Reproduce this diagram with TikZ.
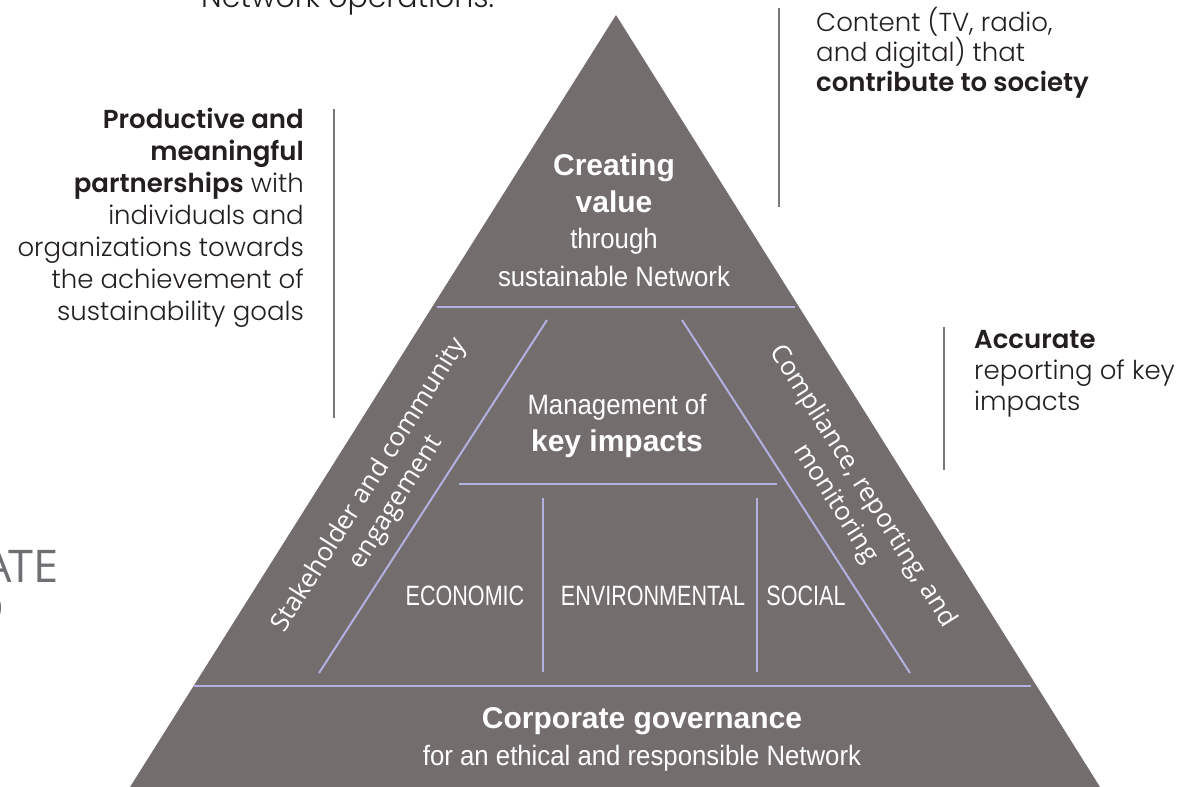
\documentclass[tikz,border=0pt]{standalone}
\usepackage{fontspec}
\setmainfont{Liberation Sans}
\newfontfamily\pyrfont{Liberation Sans}[FakeStretch=0.92]
\newfontfamily\colfont{Liberation Sans}[FakeStretch=0.77]
\newfontfamily\sidefont{Poppins}[UprightFont=* Light, BoldFont=* SemiBold]
\newfontfamily\tiltfont{Open Sans}

\definecolor{pyrgray}{RGB}{116,109,109}
\definecolor{divline}{RGB}{178,176,222}
\definecolor{sidetext}{RGB}{35,31,32}
\definecolor{rulegray}{RGB}{120,120,120}
\definecolor{headgray}{RGB}{110,111,114}

\begin{document}
\begin{tikzpicture}[x=1pt,y=-1pt,
		divider/.style={divline, line width=2pt},
		rule/.style={rulegray, line width=1.2pt},
		pyrbold/.style={white, inner sep=0pt, font=\bfseries\fontsize{30}{36}\selectfont},
		pyrtext/.style={white, inner sep=0pt, font=\pyrfont\fontsize{28}{34}\selectfont},
		colname/.style={white, inner sep=0pt, font=\colfont\fontsize{28}{34}\selectfont},
		tilted/.style={white, inner sep=0pt, align=center, font=\tiltfont\fontsize{26}{32}\selectfont},
		sidenote/.style={sidetext, inner sep=0pt, font=\sidefont\fontsize{26}{32}\selectfont}]
			\useasboundingbox (0,0) rectangle (1195,787);
			\clip (0,0) rectangle (1195,787);
			
			% Pyramid body
			\coordinate (apex) at (616,15);
			\coordinate (baseL) at (130,787);
			\coordinate (baseR) at (1100,787);
			\fill[pyrgray] (apex) -- (baseL) -- (baseR) -- cycle;
			
			% Inner division lines
			\draw[divider] (437,307) -- (795,307);
			\draw[divider] (194,686) -- (1031,686);
			\draw[divider] (547,320) -- (319,673);
			\draw[divider] (682,320) -- (910,673);
			\draw[divider] (459,484) -- (777,484);
			\draw[divider] (543,498) -- (543,672);
			\draw[divider] (757,498) -- (757,672);
			
			% Top tier
			\node[pyrbold, anchor=base] (creating) at (614,175) {Creating};
			\node[pyrbold, anchor=base] (value) at (614,212) {value};
			\node[pyrtext, anchor=base] (through) at (614,248) {through};
			\node[pyrtext, anchor=base] (susnet) at (614,286) {sustainable Network};
			
			% Middle tier
			\node[pyrtext, anchor=base] (mgmt) at (617,414) {Management of};
			\node[pyrbold, anchor=base] (keyimp) at (617,451) {key impacts};
			\node[colname, anchor=base] (econ) at (465,605) {ECONOMIC};
			\node[colname, anchor=base] (envir) at (653,605) {ENVIRONMENTAL};
			\node[colname, anchor=base] (social) at (806,605) {SOCIAL};
			
			% Slanted side bands
			\node[tilted, rotate=57.8] (stake) at (383,494) {Stakeholder and community\\engagement};
			\node[tilted, rotate=-57.8] (comply) at (849,495) {Compliance, reporting, and\\monitoring};
			
			% Base tier
			\node[pyrbold, anchor=base] (corpgov) at (642,728) {Corporate governance};
			\node[pyrtext, anchor=base] (ethical) at (642,765) {for an ethical and responsible Network};
			
			% Notes around the pyramid (anchored on their last line)
			\node[sidenote, anchor=base west] (netops) at (201,8) {\fontsize{30}{36}\selectfont Network operations.};
			\node[sidenote, align=right, anchor=base east] (partners) at (304,320) {\textbf{Productive and}\\\textbf{meaningful}\\\textbf{partnerships} with\\individuals and\\organizations towards\\the achievement of\\sustainability goals};
			\node[sidenote, align=left, anchor=base west, font=\sidefont\fontsize{26}{30}\selectfont] (content) at (816,91) {Content (TV, radio,\\and digital) that\\\textbf{contribute to society}};
			\node[sidenote, align=left, anchor=base west, font=\sidefont\fontsize{26}{31}\selectfont] (accurate) at (974,410) {\textbf{Accurate}\\reporting of key\\impacts};
			\draw[rule] (334,109) -- (334,418);
			\draw[rule] (779,8) -- (779,207);
			\draw[rule] (944,327) -- (944,470);
			
			% Cut-off heading at the left edge
			\node[headgray, inner sep=0pt, font=\tiltfont\fontsize{45}{54}\selectfont, anchor=base east] (ate) at (59,582) {ATE};
			\node[headgray, inner sep=0pt, font=\tiltfont\fontsize{45}{54}\selectfont, anchor=base east] (dee) at (5,624) {D};
		\end{tikzpicture}
\end{document}
